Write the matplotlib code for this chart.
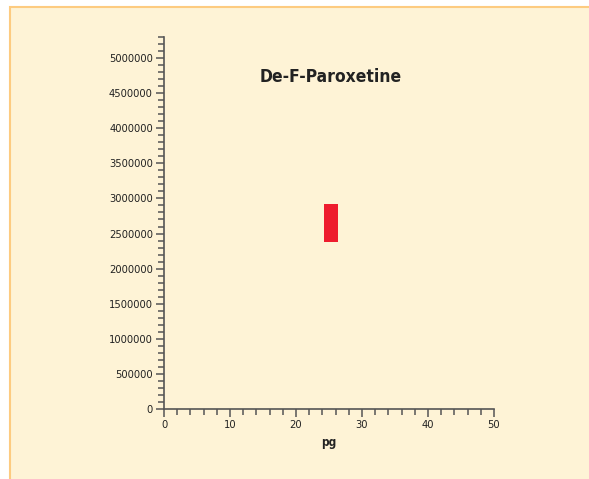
import matplotlib.pyplot as plt
from matplotlib.patches import Rectangle
from matplotlib.ticker import MultipleLocator, FormatStrFormatter

# range bar: pg position, low and high response
pg = [25.3]
low = [2380000]
high = [2920000]
title = 'De-F-Paroxetine'

plt.rcParams['font.family'] = ['DejaVu Sans']
plt.rcParams['font.stretch'] = 'condensed'

fig = plt.figure(figsize=(5.89, 4.79), dpi=100)
fig.patch.set_facecolor('white')
fig.patches.append(Rectangle((9.5 / 589, -0.05), 1.1, 1 - 6.5 / 479 + 0.05,
                             transform=fig.transFigure, facecolor='#fef3d6',
                             edgecolor='#fdcb80', linewidth=1.5, zorder=-10))

ax = fig.add_axes([164 / 589, 1 - 409 / 479, 330 / 589, 372 / 479])
ax.set_facecolor('none')
heights = [h - l for h, l in zip(high, low)]
ax.bar(pg, heights, bottom=low, width=2.2, color='#ee1c2e')

ax.set_xlim(0, 50)
ax.set_ylim(0, 5300000)
ax.xaxis.set_major_locator(MultipleLocator(10))
ax.xaxis.set_minor_locator(MultipleLocator(2))
ax.yaxis.set_major_locator(MultipleLocator(500000))
ax.yaxis.set_minor_locator(MultipleLocator(100000))
ax.yaxis.set_major_formatter(FormatStrFormatter('%d'))

for s in ['top', 'right']:
    ax.spines[s].set_visible(False)
for s in ['left', 'bottom']:
    ax.spines[s].set_color('#555555')
    ax.spines[s].set_linewidth(1.2)

ax.tick_params(which='major', length=6, width=1.1, color='#555555',
               labelsize=8, labelcolor='#222222', pad=2)
ax.tick_params(which='minor', length=4, width=1.1, color='#555555')

ax.set_xlabel('pg', fontsize=8.5, fontweight='bold', color='#222222', labelpad=4)
fig.text(331 / 589, 1 - 77 / 479, title, fontsize=12.5, fontweight='bold',
         color='#222222', ha='center', va='center')

fig.savefig('out.png', dpi=100)
